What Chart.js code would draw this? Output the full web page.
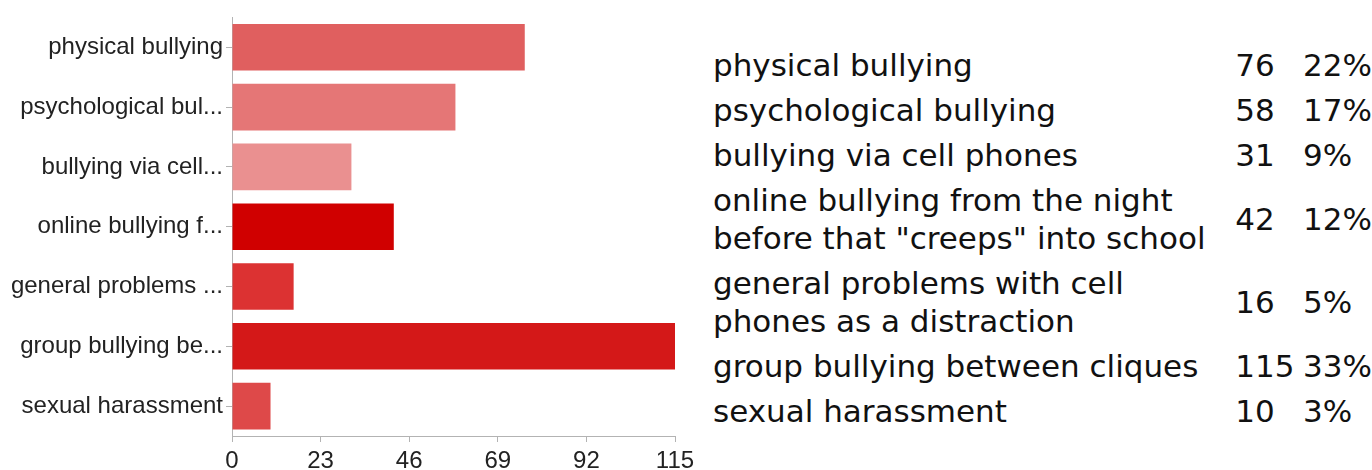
<!DOCTYPE html>
<html>
<head>
<meta charset="utf-8">
<script src="https://cdn.jsdelivr.net/npm/chart.js@4"></script>
<style>
  html, body { margin: 0; padding: 0; background: #fff; }
  body { width: 1372px; height: 470px; position: relative; overflow: hidden; }
  #chart-wrap { position: absolute; left: 0; top: 0; width: 700px; height: 470px; }
  #legend-table {
    position: absolute; left: 713px; top: 42px;
    border-collapse: collapse; border-spacing: 0;
    font-family: "DejaVu Sans", sans-serif; font-size: 31px; line-height: 38px; color: #111;
  }
  #legend-table td { padding: 4px 0 3px 0; vertical-align: middle; white-space: pre; }
  #legend-table td.lbl { width: 523px; }
  #legend-table td.num { width: 68px; }
</style>
</head>
<body>
<div id="chart-wrap"><canvas id="chart-bullying"></canvas></div>
<table id="legend-table"><tbody id="legend-body"></tbody></table>

<script>
// =====================
// DATA
// =====================
const categories = [
  'physical bullying',
  'psychological bullying',
  'bullying via cell phones',
  'online bullying from the night before that "creeps" into school',
  'general problems with cell phones as a distraction',
  'group bullying between cliques',
  'sexual harassment'
];
const axisLabels = [
  'physical bullying',
  'psychological bul...',
  'bullying via cell...',
  'online bullying f...',
  'general problems ...',
  'group bullying be...',
  'sexual harassment'
];
const legendLabels = [
  'physical bullying',
  'psychological bullying',
  'bullying via cell phones',
  'online bullying from the night\nbefore that "creeps" into school',
  'general problems with cell\nphones as a distraction',
  'group bullying between cliques',
  'sexual harassment'
];
const counts = [76, 58, 31, 42, 16, 115, 10];
const percents = ['22%', '17%', '9%', '12%', '5%', '33%', '3%'];
const barColors = ['#e05f5f', '#e57676', '#ea9090', '#d00000', '#dc3232', '#d41818', '#de4949'];
const xTicks = [0, 23, 46, 69, 92, 115];

// =====================
// LEGEND TABLE
// =====================
function renderLegendTable() {
  const tbody = document.getElementById('legend-body');
  tbody.innerHTML = legendLabels.map((label, i) => `<tr>
      <td class="lbl">${label}</td>
      <td class="num">${counts[i]}</td>
      <td class="pct">${percents[i]}</td>
    </tr>`).join('');
}

// =====================
// CHART
// =====================
function renderChart() {
  const ctx = document.getElementById('chart-bullying');
  const axisColor = '#b3b3b3';
  const tickFont = { family: '"Liberation Sans", Arial, sans-serif', size: 24 };

  new Chart(ctx, {
    type: 'bar',
    data: {
      labels: categories,
      datasets: [{
        data: counts,
        backgroundColor: barColors,
        borderWidth: 0,
        barPercentage: 0.78,
        categoryPercentage: 1
      }]
    },
    options: {
      indexAxis: 'y',
      responsive: true,
      maintainAspectRatio: false,
      animation: false,
      layout: { padding: { top: 15, right: 25, left: 0, bottom: 0 } },
      plugins: { legend: { display: false }, tooltip: { enabled: false } },
      scales: {
        x: {
          min: xTicks[0],
          max: xTicks[xTicks.length - 1],
          afterBuildTicks: scale => { scale.ticks = xTicks.map(v => ({ value: v })); },
          afterFit: scale => { scale.height = 34; },
          grid: { drawOnChartArea: false, drawTicks: true, tickLength: 6, color: axisColor },
          border: { color: axisColor },
          ticks: { color: '#222', font: tickFont, padding: 5, maxRotation: 0 }
        },
        y: {
          afterFit: scale => { scale.width = 232; },
          grid: { offset: false, drawOnChartArea: false, drawTicks: true, tickLength: 6, color: axisColor },
          border: { color: axisColor },
          ticks: {
            color: '#222',
            font: tickFont,
            padding: 3,
            autoSkip: false,
            callback: (val, i) => axisLabels[i]
          }
        }
      }
    }
  });
}

renderLegendTable();
renderChart();
</script>
</body>
</html>
